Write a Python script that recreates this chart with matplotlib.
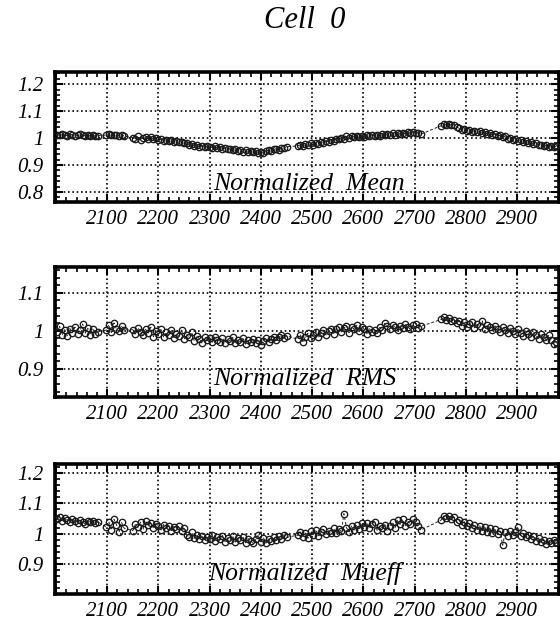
import matplotlib
matplotlib.use("Agg")
import matplotlib.pyplot as plt
from matplotlib.ticker import MultipleLocator, FixedLocator, FixedFormatter

# ---------------- data ----------------
x_vals = [
    2002, 2007, 2012, 2017, 2022, 2027, 2032, 2037, 2042, 2047, 2052, 2057, 2062, 2067, 2072, 2077, 2082,
    2098, 2103, 2108, 2113, 2118, 2123, 2128, 2133,
    2150, 2155, 2160, 2165, 2170, 2175, 2180, 2185, 2190, 2195, 2200, 2205, 2210, 2215, 2220, 2225,
    2230, 2235, 2240, 2245, 2250, 2255, 2260, 2265, 2270, 2275, 2280, 2285, 2290, 2295, 2300, 2305,
    2310, 2315, 2320, 2325, 2330, 2335, 2340, 2345, 2350, 2355, 2360, 2365, 2370, 2375, 2380, 2385,
    2390, 2395, 2400, 2405, 2410, 2415, 2420, 2425, 2430, 2435, 2440, 2445, 2450,
    2472, 2477, 2482, 2487, 2492, 2497, 2502, 2507, 2512, 2517, 2522, 2527, 2532, 2537, 2542, 2547,
    2552, 2557, 2562, 2567, 2572, 2577, 2582, 2587, 2592, 2597, 2602, 2607, 2612, 2617, 2622, 2627,
    2632, 2637, 2642, 2647, 2652, 2657, 2662, 2667, 2672, 2677, 2682, 2687, 2692, 2697, 2702, 2707, 2712,
    2752, 2757, 2762, 2767, 2772, 2777, 2782, 2787, 2792, 2797, 2802, 2807, 2812, 2817, 2822, 2827,
    2832, 2837, 2842, 2847, 2852, 2857, 2862, 2867, 2872, 2877, 2882, 2887, 2892, 2897, 2902, 2907,
    2912, 2917, 2922, 2927, 2932, 2937, 2942, 2947, 2952, 2957, 2962, 2967, 2972, 2977,
]

mean_vals = [
    1.013, 1.010, 1.015, 1.011, 1.009, 1.014, 1.012, 1.008, 1.013, 1.016, 1.011, 1.009, 1.012, 1.007, 1.010, 1.006, 1.009,
    1.011, 1.014, 1.010, 1.013, 1.012, 1.009, 1.013, 1.008,
    1.002, 0.998, 1.006, 0.994, 1.001, 1.003, 0.997, 1.004, 0.995, 0.999, 0.993, 0.996, 0.990, 0.994, 0.988, 0.992,
    0.986, 0.991, 0.984, 0.987, 0.980, 0.983, 0.976, 0.979, 0.972, 0.975, 0.967, 0.971, 0.966, 0.970, 0.968, 0.965,
    0.969, 0.963, 0.967, 0.961, 0.964, 0.958, 0.961, 0.955, 0.958, 0.952, 0.956, 0.950, 0.954, 0.949, 0.953, 0.947,
    0.951, 0.946, 0.949, 0.944, 0.952, 0.955, 0.951, 0.958, 0.961, 0.957, 0.965, 0.962, 0.968,
    0.971, 0.975, 0.969, 0.977, 0.973, 0.980, 0.976, 0.983, 0.979, 0.986, 0.982, 0.990, 0.986, 0.994, 0.991, 0.998,
    0.995, 1.002, 0.998, 1.006, 1.002, 1.009, 1.004, 1.008, 1.003, 1.007, 1.004, 1.010, 1.006, 1.012, 1.008, 1.013,
    1.009, 1.015, 1.011, 1.016, 1.012, 1.017, 1.013, 1.019, 1.015, 1.020, 1.016, 1.021, 1.017, 1.022, 1.018, 1.020, 1.014,
    1.046, 1.051, 1.049, 1.053, 1.047, 1.050, 1.041, 1.036, 1.030, 1.033, 1.026, 1.029, 1.023, 1.027, 1.021, 1.025,
    1.018, 1.022, 1.015, 1.019, 1.011, 1.014, 1.007, 1.010, 1.003, 1.006, 0.998, 1.001, 0.993, 0.996, 0.989, 0.992,
    0.985, 0.988, 0.981, 0.984, 0.977, 0.980, 0.973, 0.976, 0.970, 0.974, 0.968, 0.972, 0.966, 0.970,
]

rms_vals = [
    0.998, 1.012, 0.990, 1.003, 0.987, 1.006, 0.995, 1.010, 0.992, 1.001, 1.018, 0.994, 1.007, 0.989, 1.004, 0.993, 0.998,
    1.002, 1.016, 0.996, 1.021, 1.005, 0.999, 1.014, 1.003,
    1.003, 0.992, 1.008, 0.996, 0.988, 1.004, 0.994, 1.010, 0.985, 0.999, 0.991, 1.006, 0.983, 0.996, 0.988, 1.003,
    0.980, 0.993, 0.986, 1.002, 0.978, 0.990, 0.984, 0.996, 0.974, 0.987, 0.979, 0.968, 0.983, 0.975, 0.980, 0.970,
    0.984, 0.976, 0.972, 0.981, 0.969, 0.978, 0.973, 0.983, 0.967, 0.976, 0.971, 0.980, 0.965, 0.975, 0.970, 0.979,
    0.968, 0.977, 0.963, 0.974, 0.981, 0.970, 0.978, 0.985, 0.975, 0.983, 0.989, 0.980, 0.987,
    0.978, 0.990, 0.972, 0.985, 0.994, 0.981, 0.990, 0.998, 0.984, 0.995, 1.002, 0.989, 0.999, 1.006, 0.993, 1.004,
    1.010, 0.997, 1.008, 1.013, 0.995, 1.011, 1.004, 1.015, 0.999, 1.009, 1.004, 0.993, 1.006, 0.998, 1.003, 0.995,
    1.009, 1.001, 1.020, 1.012, 1.006, 1.016, 1.009, 1.003, 1.013, 1.007, 1.017, 1.010, 1.004, 1.015, 1.019, 1.008, 1.012,
    1.030, 1.036, 1.028, 1.033, 1.025, 1.029, 1.020, 1.026, 1.013, 1.022, 1.010, 1.018, 1.024, 1.008, 1.017, 1.012,
    1.026, 1.005, 1.015, 1.009, 1.002, 1.013, 1.006, 0.998, 1.010, 1.003, 0.995, 1.007, 0.999, 0.991, 1.004, 0.995,
    0.987, 1.000, 0.992, 0.983, 0.996, 0.988, 0.979, 0.992, 0.985, 0.976, 0.988, 0.975, 0.966, 0.972,
]

mueff_vals = [
    1.048, 1.055, 1.041, 1.052, 1.046, 1.038, 1.049, 1.043, 1.035, 1.045, 1.040, 1.032, 1.043, 1.037, 1.041, 1.034, 1.039,
    1.022, 1.040, 1.012, 1.048, 1.030, 1.005, 1.037, 1.018,
    1.010, 1.031, 1.022, 1.038, 1.015, 1.042, 1.028, 1.035, 1.020, 1.033, 1.025, 1.012, 1.030, 1.019, 1.027, 1.010,
    1.023, 1.016, 1.025, 1.008, 1.018, 0.995, 0.990, 1.004, 0.985, 0.996, 0.982, 0.993, 0.978, 0.989, 0.984, 0.995,
    0.976, 0.988, 0.981, 0.994, 0.974, 0.986, 0.979, 0.991, 0.972, 0.985, 0.978, 0.990, 0.970, 0.983, 0.976, 0.968,
    0.981, 0.995, 0.973, 0.986, 0.969, 0.982, 0.975, 0.988, 0.978, 0.991, 0.984, 0.996, 0.988,
    0.995, 1.006, 0.990, 1.002, 0.985, 1.008, 0.996, 1.012, 0.993, 1.005, 1.015, 0.998, 1.010, 1.003, 1.018, 1.001,
    1.014, 1.008, 1.066, 1.020, 1.006, 1.025, 1.012, 1.029, 1.017, 1.034, 1.021, 1.036, 1.019, 1.032, 1.040, 1.011,
    1.026, 1.018, 1.030, 1.008, 1.024, 1.037, 1.020, 1.044, 1.031, 1.047, 1.027, 1.040, 1.033, 1.049, 1.038, 1.025, 1.012,
    1.045, 1.058, 1.052, 1.060, 1.048, 1.055, 1.038, 1.045, 1.030, 1.040, 1.024, 1.034, 1.019, 1.030, 1.013, 1.026,
    1.010, 1.022, 1.006, 1.018, 1.002, 1.014, 0.998, 1.009, 0.962, 1.004, 0.993, 1.010, 0.997, 1.006, 1.022, 0.994,
    1.001, 0.988, 0.996, 0.983, 0.991, 0.977, 0.986, 0.971, 0.980, 0.966, 0.975, 0.968, 0.979, 0.972,
]

panel_labels = ["Normalized  Mean", "Normalized  RMS", "Normalized  Mueff"]
panel_series = [mean_vals, rms_vals, mueff_vals]
panel_ylims = [(0.763, 1.245), (0.826, 1.168), (0.801, 1.23)]
panel_yticks = [[0.8, 0.9, 1.0, 1.1, 1.2], [0.9, 1.0, 1.1], [0.9, 1.0, 1.1, 1.2]]
panel_yticklabels = [["0.8", "0.9", "1", "1.1", "1.2"], ["0.9", "1", "1.1"], ["0.9", "1", "1.1", "1.2"]]
x_ticks = [2000, 2100, 2200, 2300, 2400, 2500, 2600, 2700, 2800, 2900]
x_ticklabels = ["", "2100", "2200", "2300", "2400", "2500", "2600", "2700", "2800", "2900"]
title_text = "Cell  0"

# ---------------- figure ----------------
W, H = 560, 629
fig = plt.figure(figsize=(W / 100, H / 100), dpi=100)
serif = ["Liberation Serif", "DejaVu Serif"]

# axes placement in pixels: (left, top, right, bottom)
boxes = [(55, 72, 559, 202), (55, 267, 559, 397), (55, 464, 559, 594)]
label_pos = [(0.313, 0.09), (0.313, 0.092), (0.303, 0.108)]

fig.text(305 / W, 1 - 21 / H, title_text, ha="center", va="center",
         fontsize=22, style="italic", family=serif)

for i, (l, t, r, b) in enumerate(boxes):
    ax = fig.add_axes([l / W, 1 - b / H, (r - l) / W, (b - t) / H])
    ax.plot(x_vals, panel_series[i], linestyle=(0, (3, 2)), linewidth=0.7, color="#222222",
            marker="o", markersize=4.6, markerfacecolor="none", markeredgecolor="#1a1a1a",
            markeredgewidth=0.95, zorder=3)
    ax.set_xlim(1998, 2982)
    ax.set_ylim(*panel_ylims[i])
    ax.xaxis.set_major_locator(FixedLocator(x_ticks))
    ax.xaxis.set_major_formatter(FixedFormatter(x_ticklabels))
    ax.xaxis.set_minor_locator(MultipleLocator(20))
    ax.yaxis.set_major_locator(FixedLocator(panel_yticks[i]))
    ax.yaxis.set_major_formatter(FixedFormatter(panel_yticklabels[i]))
    ax.yaxis.set_minor_locator(MultipleLocator(0.02))
    ax.grid(True, which="major", color="black", linestyle=(0, (1, 1.6)), linewidth=1.2)
    ax.tick_params(which="both", direction="in", top=True, right=True, color="black")
    ax.tick_params(which="major", length=6, width=1.5)
    ax.tick_params(which="minor", length=3.5, width=1.2)
    ax.tick_params(axis="y", which="major", pad=8)
    ax.tick_params(axis="x", which="major", pad=6)
    for s in ax.spines.values():
        s.set_linewidth(2.6)
    for lab in ax.get_xticklabels() + ax.get_yticklabels():
        lab.set_fontfamily(serif)
        lab.set_fontstyle("italic")
        lab.set_fontsize(15)
    ax.text(label_pos[i][0], label_pos[i][1], panel_labels[i], transform=ax.transAxes,
            ha="left", va="baseline", fontsize=18.5, style="italic", family=serif, zorder=4)

fig.savefig("out.png", dpi=100)
